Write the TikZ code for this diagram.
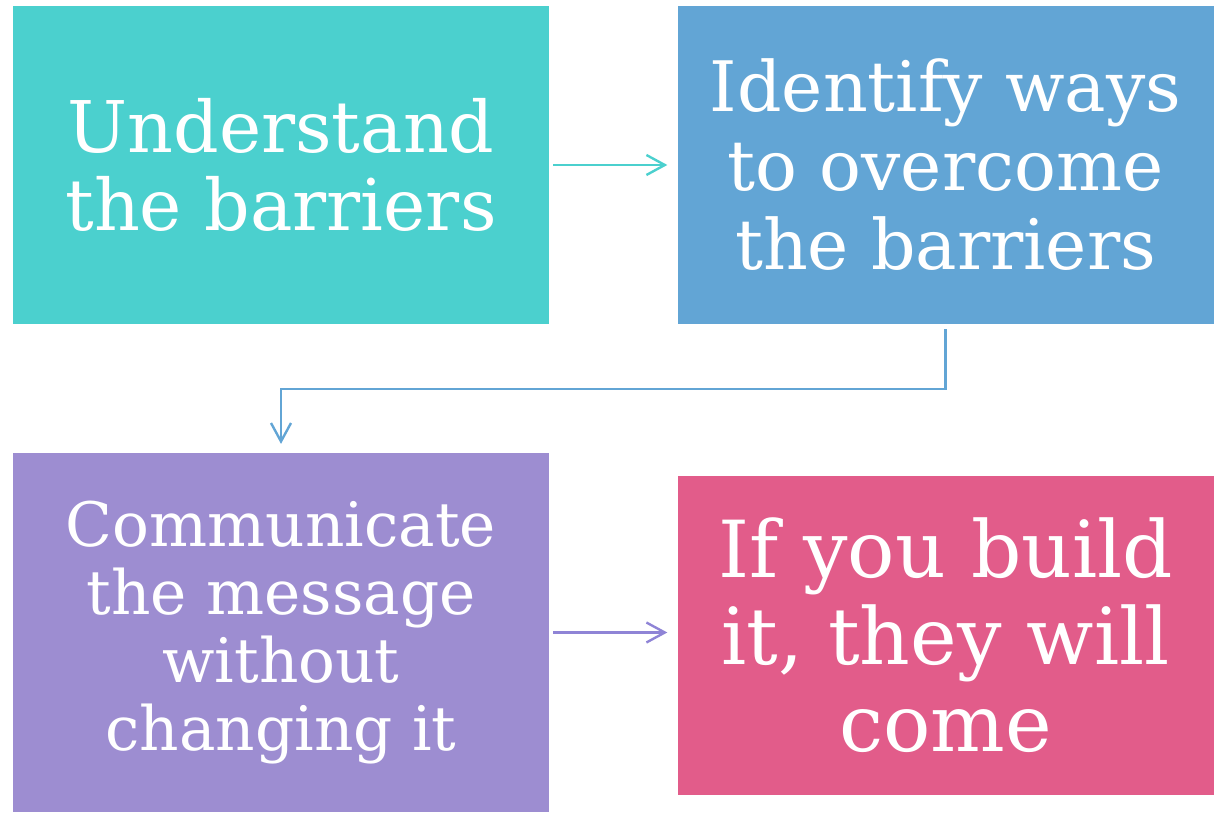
\documentclass[tikz,border=0pt]{standalone}
\usepackage{fontspec}
\setmainfont{DejaVu Serif}
\usepackage{tikz}
\usetikzlibrary{arrows.meta}
\definecolor{teal1}{RGB}{75,208,206}
\definecolor{blue1}{RGB}{98,165,213}
\definecolor{purple1}{RGB}{157,141,209}
\definecolor{pink1}{RGB}{226,92,138}
\definecolor{purplearrow}{RGB}{143,132,214}

\begin{document}
\begin{tikzpicture}[
    stepbox/.style={rectangle, inner sep=0pt, text=white, align=center, minimum width=13.4cm},
    flow/.style={line width=1.7pt, -{Straight Barb[length=4.6mm, width=5mm, line width=1.7pt]}, shorten <=1mm, shorten >=2.5mm}
  ]
    \useasboundingbox (0, 0) rectangle (30.55, 20.325);
    \node[stepbox, fill=teal1, minimum height=7.95cm, font=\fontsize{50.7}{55.5}\selectfont] (understand) at (7.025, 16.2) {Understand\\the barriers};
    \node[stepbox, fill=blue1, minimum height=7.95cm, font=\fontsize{49.5}{56.2}\selectfont] (identify) at (23.64, 16.2) {Identify ways\\to overcome\\the barriers};
    \node[stepbox, fill=purple1, minimum height=8.975cm, font=\fontsize{43.6}{48.3}\selectfont] (communicate) at (7.025, 4.5125) {Communicate\\the message\\without\\changing it};
    \node[stepbox, fill=pink1, minimum height=7.975cm, font=\fontsize{56}{61.9}\selectfont] (build) at (23.64, 4.4375) {If you build\\it, they will\\come};
    \coordinate (elbow) at (7.025, 10.6);
    \draw[flow, teal1] (understand.east) -- (identify.west);
    \draw[flow, blue1, shorten <=1.2mm, shorten >=2.2mm] (identify.south) |- (elbow) -- (communicate.north);
    \draw[flow, purplearrow] (communicate.east) -- (communicate.east -| build.west);
\end{tikzpicture}
\end{document}
